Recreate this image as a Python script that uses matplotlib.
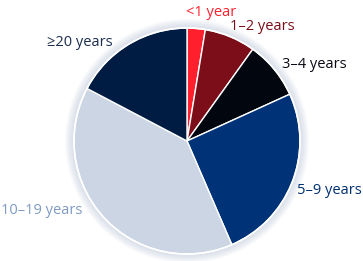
import matplotlib
matplotlib.use('Agg')
import matplotlib.pyplot as plt
from matplotlib.patches import Circle

# data (share of respondents)
labels = ['<1 year', '1–2 years', '3–4 years', '5–9 years', '10–19 years', '≥20 years']
shares = [2.6, 7.3, 8.3, 25.3, 39.2, 17.3]
colors = ['#ff1f2d', '#7c0e1a', '#01060f', '#003277', '#cbd5e3', '#001c43']
label_colors = ['#ff1f2d', '#7c0e1a', '#0a0a14', '#00306f', '#7f9bc2', '#1c2d4f']

# label anchor positions in pixels (x, y from top) and alignment
label_pos = [(211, 12), (230, 27), (282, 65), (297, 190), (82, 211), (113, 42)]
label_ha = ['center', 'left', 'left', 'left', 'right', 'right']

W, H = 363, 261
cx, cy, R = 187, 141, 113

fig = plt.figure(figsize=(W / 100, H / 100), dpi=100)
ax = fig.add_axes([0, 0, 1, 1])

# soft glow round the pie
for i in range(9):
    ax.add_patch(Circle((cx, H - cy), R + 1 + i, color='#b8c4d8', alpha=0.07, lw=0, zorder=0))

ax.pie(shares, colors=colors, startangle=90, counterclock=False,
       center=(cx, H - cy), radius=R, frame=True,
       wedgeprops=dict(edgecolor='white', linewidth=1.0))
ax.add_patch(Circle((cx, H - cy), R, fill=False, ec='white', lw=1.2, zorder=5))

ax.set_xlim(0, W)
ax.set_ylim(0, H)
ax.set_aspect('equal')
ax.axis('off')

for lab, (x, y), ha, c in zip(labels, label_pos, label_ha, label_colors):
    ax.text(x, H - y, lab, ha=ha, va='center', color=c, fontsize=10.5,
            family=['Open Sans', 'DejaVu Sans'])

fig.savefig('out.png', dpi=100)
